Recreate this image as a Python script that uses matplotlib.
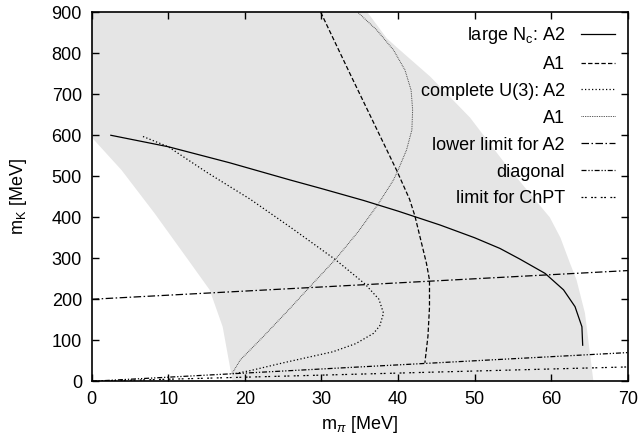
import matplotlib
matplotlib.use('Agg')
import matplotlib.pyplot as plt

plt.rcParams['font.family'] = ['Liberation Sans', 'DejaVu Sans']
plt.rcParams['font.size'] = 13
plt.rcParams['mathtext.fontset'] = 'custom'
plt.rcParams['mathtext.rm'] = 'Liberation Sans'
plt.rcParams['mathtext.it'] = 'Liberation Sans:italic'

# allowed region (grey band), inner and outer edge
inner_x = [0, 3.9, 8.2, 12.6, 15.4, 17.1, 18.2, 18.4]
inner_y = [595, 515, 410, 296, 223, 133, 20, 0]
outer_x = [65.5, 64.4, 63.3, 62.4, 61.2, 59.8, 58.0, 53.8, 49.4, 44.2, 39.8, 38.5, 36.0]
outer_y = [0, 166, 247, 290, 350, 400, 440, 535, 643, 743, 815, 837, 900]

# large Nc
nc_a2_x = [2.5, 10, 18, 25.9, 30, 35.5, 40, 45.5, 50, 53.3, 55.9, 59.2, 61.6, 63.1, 64.0, 64.1]
nc_a2_y = [600, 572, 533, 491, 470, 441, 415, 381, 350, 324, 298, 263, 223, 182, 133, 88]
nc_a1_x = [29.9, 33.7, 36.0, 39.8, 41.5, 42.2, 43.7, 44.1, 44.1, 43.9, 43.5]
nc_a1_y = [900, 751, 662, 515, 444, 403, 288, 247, 180, 110, 45]

# complete U(3)
u3_a2_x = [6.7, 10, 15, 20.7, 26, 31.8, 35.7, 37.5, 38.1, 37.6, 36.8, 34.5, 31.5, 25, 20.7, 18.5]
u3_a2_y = [597, 572, 510, 444, 375, 297, 237, 200, 166, 135, 117, 92, 72, 45, 26, 18]
u3_a1_x = [18.3, 19.4, 22.4, 25.9, 28.5, 31.8, 34.8, 37.4, 39.4, 40.0, 41.1, 41.8, 41.9, 41.7, 40.9, 39.4, 37.2, 34.8]
u3_a1_y = [18, 52, 109, 178, 231, 297, 365, 432, 491, 515, 564, 613, 662, 710, 759, 808, 857, 899]

# straight limits
limit_x = [0, 70]
lower_a2_y = [200, 270]
diagonal_y = [0, 70]
chpt_y = [0, 35]

fig = plt.figure(figsize=(6.42, 4.38), dpi=100)
ax = fig.add_axes([0.1428, 0.1295, 0.8352, 0.8425])

band_x = inner_x + outer_x + [0]
band_y = inner_y + outer_y + [900]
ax.fill(band_x, band_y, color='#e5e5e5', lw=0, zorder=0)

lw = 0.9
ax.plot(nc_a2_x, nc_a2_y, color='black', lw=lw, ls='-', label=r'large N$_\mathregular{c}$: A2')
ax.plot(nc_a1_x, nc_a1_y, color='black', lw=lw, ls=(0, (3.5, 1.8)), label='A1')
ax.plot(u3_a2_x, u3_a2_y, color='black', lw=lw, ls=(0, (1, 1.8)), label='complete U(3): A2')
ax.plot(u3_a1_x, u3_a1_y, color='#333333', lw=0.7, ls=(0, (0.8, 1.0)), label='A1')
ax.plot(limit_x, lower_a2_y, color='black', lw=lw, ls=(0, (6, 2, 1.2, 2)), label='lower limit for A2')
ax.plot(limit_x, diagonal_y, color='black', lw=lw, ls=(0, (4, 1.5, 1, 1.5, 1, 1.5)), label='diagonal')
ax.plot(limit_x, chpt_y, color='black', lw=lw, ls=(0, (1.5, 1.2, 1.5, 3.5)), label='limit for ChPT')

ax.set_xlim(0, 70)
ax.set_ylim(0, 900)
ax.set_xticks(range(0, 71, 10))
ax.set_yticks(range(0, 901, 100))
ax.tick_params(direction='in', length=5, width=1, top=True, right=True, pad=7)
for s in ax.spines.values():
    s.set_linewidth(1.2)

ax.set_xlabel(r'm$_\pi$ [MeV]', labelpad=4)
ax.set_ylabel(r'm$_\mathregular{K}$ [MeV]', labelpad=16)

ax.legend(loc='upper right', frameon=False, markerfirst=False, handlelength=1.9,
          handletextpad=0.9, labelspacing=0.55, borderaxespad=0.3, fontsize=13)

fig.savefig('out.png', dpi=100)
